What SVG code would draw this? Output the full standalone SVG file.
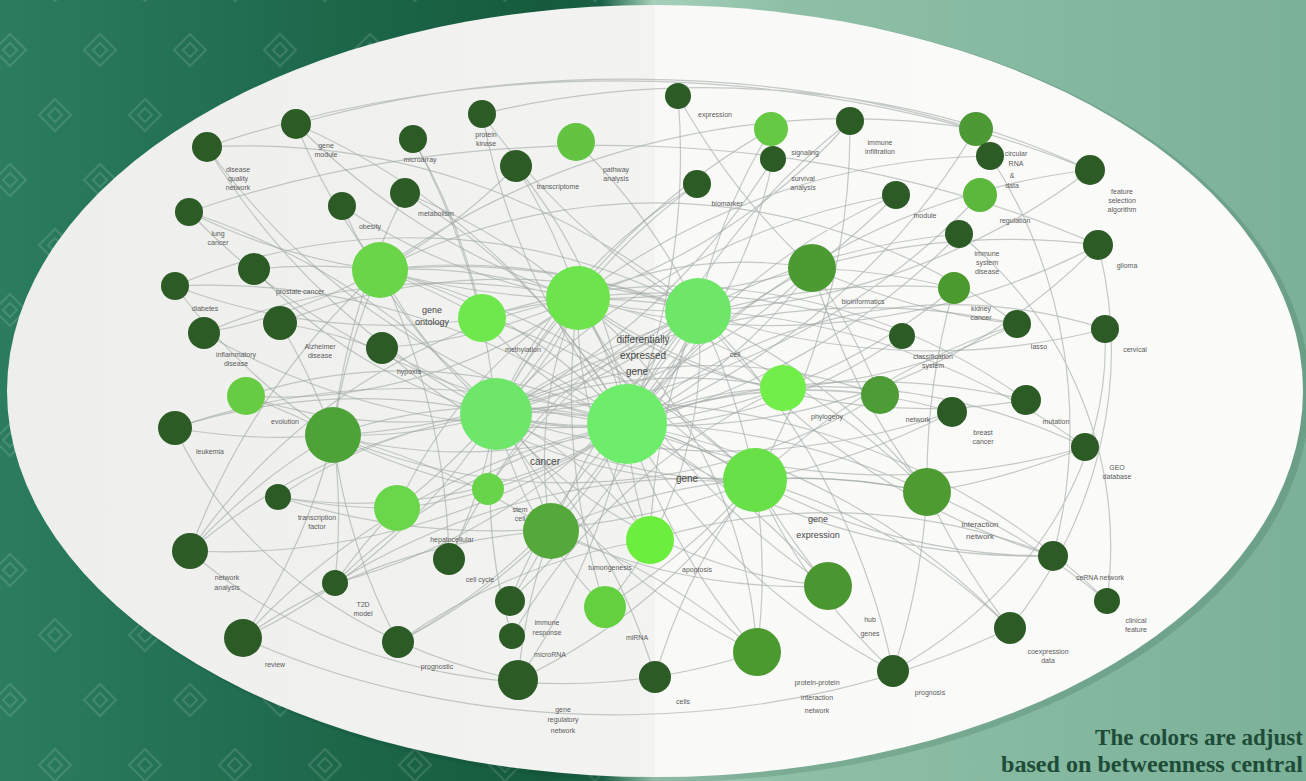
<svg xmlns="http://www.w3.org/2000/svg" width="1306" height="781" viewBox="0 0 1306 781">
<defs>
<linearGradient id="bg" x1="0" y1="0" x2="1" y2="0">
<stop offset="0" stop-color="#2b7d5e"/><stop offset="0.42" stop-color="#155a3d"/><stop offset="0.46" stop-color="#1a6245"/><stop offset="0.5" stop-color="#a6cfbb"/><stop offset="0.6" stop-color="#8ec0a7"/><stop offset="1" stop-color="#7cb199"/>
</linearGradient>
<linearGradient id="el" x1="0" y1="0" x2="1" y2="0">
<stop offset="0" stop-color="#eeefed"/><stop offset="0.5" stop-color="#f3f4f2"/><stop offset="0.5" stop-color="#f9f9f8"/><stop offset="1" stop-color="#fbfbfa"/>
</linearGradient>
<pattern id="dia" patternUnits="userSpaceOnUse" width="90" height="130">
<g fill="none" stroke="#ffffff" stroke-opacity="0.13" stroke-width="2">
<path d="M10 34L26 50L10 66L-6 50Z"/><rect x="5" y="45" width="10" height="10" transform="rotate(45 10 50)"/>
<path d="M100 34L116 50L100 66L84 50Z"/>
<path d="M55 99L71 115L55 131L39 115Z"/><rect x="50" y="110" width="10" height="10" transform="rotate(45 55 115)"/>
<path d="M55 -31L71 -15L55 1L39 -15Z"/>
</g>
</pattern>
<style>
.e{fill:none;stroke:#9ea8a3;stroke-opacity:0.6;stroke-width:1.2}
.d{fill:#2c5b26}
.m{fill:#4b9b32}
.lb{font-family:"Liberation Sans",Arial,sans-serif;font-size:7px;fill:#5a5a5a;text-anchor:middle}
.lc{font-family:"Liberation Sans",Arial,sans-serif;font-size:10px;fill:#474747;text-anchor:middle}
.cap{font-family:"Liberation Serif","Times New Roman",serif;font-size:23px;font-weight:bold;fill:#1e4c38}
</style>
</defs>
<rect width="1306" height="781" fill="url(#bg)"/>
<rect width="640" height="781" fill="url(#dia)"/>
<ellipse cx="660" cy="394" rx="650" ry="388" fill="#0b3a28" opacity="0.15"/>
<ellipse cx="655" cy="391" rx="648" ry="386" fill="url(#el)"/>

<g id="edges" class="e">
<path d="M627 424A700 700 0 0 1 207 147M627 424A700 700 0 0 0 296 124M627 424A700 700 0 0 1 482 114M627 424A700 700 0 0 0 678 96M627 424A700 700 0 0 1 850 121M627 424A700 700 0 0 0 976 129M627 424A700 700 0 0 1 1090 170M627 424A700 700 0 0 0 959 234M627 424A700 700 0 0 1 189 212M627 424A700 700 0 0 0 175 286M627 424A700 700 0 0 1 204 333M627 424A700 700 0 0 0 175 428M627 424A700 700 0 0 1 1026 400M627 424A700 700 0 0 0 1085 447M627 424A700 700 0 0 1 927 492M627 424A700 700 0 0 0 1053 556M627 424A700 700 0 0 1 1010 628M627 424A700 700 0 0 0 893 671M627 424A700 700 0 0 1 190 551M627 424A700 700 0 0 0 243 638M627 424A700 700 0 0 1 518 680M627 424A700 700 0 0 0 757 652M627 424A700 700 0 0 1 828 586M627 424A400 400 0 0 1 496 414M627 424A400 400 0 0 0 578 298M627 424A400 400 0 0 1 698 311M627 424A500 500 0 0 0 380 270M627 424A400 400 0 0 1 755 480M627 424A500 500 0 0 1 333 435M627 424A500 500 0 0 0 812 268M627 424A400 400 0 0 1 551 531M627 424A400 400 0 0 0 650 540M627 424A500 500 0 0 1 1105 329M627 424A600 600 0 0 0 1098 245M627 424A600 600 0 0 1 398 642M627 424A600 600 0 0 0 335 583"/>
<path d="M496 414A700 700 0 0 1 207 147M496 414A700 700 0 0 0 413 139M496 414A700 700 0 0 1 771 129M496 414A700 700 0 0 0 773 159M496 414A700 700 0 0 1 896 195M496 414A700 700 0 0 0 980 195M496 414A700 700 0 0 1 954 288M496 414A700 700 0 0 0 189 212M496 414A500 500 0 0 1 254 269M496 414A500 500 0 0 0 280 323M496 414A500 500 0 0 1 246 396M496 414A600 600 0 0 0 175 428M496 414A700 700 0 0 1 1017 324M496 414A700 700 0 0 0 952 412M496 414A700 700 0 0 1 1107 601M496 414A600 600 0 0 0 190 551M496 414A600 600 0 0 1 243 638M496 414A500 500 0 0 0 278 497M496 414A500 500 0 0 1 449 559M496 414A500 500 0 0 0 512 636M496 414A600 600 0 0 1 655 677M496 414A600 600 0 0 0 757 652M496 414A500 500 0 0 1 578 298M496 414A500 500 0 0 0 698 311M496 414A500 500 0 0 1 783 388M496 414A500 500 0 0 0 755 480M496 414A500 500 0 0 1 880 395"/>
<path d="M578 298A700 700 0 0 1 296 124M578 298A600 600 0 0 0 516 166M578 298A600 600 0 0 1 697 184M578 298A600 600 0 0 0 850 121M578 298A700 700 0 0 1 990 156M578 298A700 700 0 0 0 1098 245M578 298A600 600 0 0 1 342 206M578 298A600 600 0 0 0 405 193M578 298A600 600 0 0 1 382 348M578 298A600 600 0 0 0 204 333M578 298A700 700 0 0 1 927 492M578 298A700 700 0 0 0 828 586M578 298A700 700 0 0 1 397 508M578 298A700 700 0 0 0 605 607M578 298A700 700 0 0 1 902 336M578 298A400 400 0 0 0 698 311M578 298A400 400 0 0 1 812 268"/>
<path d="M698 311A700 700 0 0 0 207 147M698 311A700 700 0 0 1 482 114M698 311A600 600 0 0 0 576 142M698 311A600 600 0 0 1 771 129M698 311A700 700 0 0 0 1090 170M698 311A700 700 0 0 1 959 234M698 311A700 700 0 0 0 1105 329M698 311A700 700 0 0 1 1085 447M698 311A700 700 0 0 0 380 270M698 311A700 700 0 0 1 333 435M698 311A700 700 0 0 0 551 531M698 311A700 700 0 0 1 510 601M698 311A700 700 0 0 0 1053 556M698 311A700 700 0 0 1 893 671M698 311A700 700 0 0 0 650 540M698 311A700 700 0 0 1 755 480M698 311A600 600 0 0 0 175 286"/>
<path d="M380 270A600 600 0 0 1 296 124M380 270A600 600 0 0 0 516 166M380 270A600 600 0 0 1 189 212M380 270A600 600 0 0 0 254 269M380 270A600 600 0 0 1 204 333M380 270A800 800 0 0 1 976 129M380 270A800 800 0 0 0 812 268M380 270A800 800 0 0 1 755 480M380 270A600 600 0 0 0 333 435M380 270A600 600 0 0 1 482 318M380 270A700 700 0 0 0 190 551M380 270A700 700 0 0 1 449 559"/>
<path d="M755 480A700 700 0 0 0 850 121M755 480A700 700 0 0 1 1017 324M755 480A700 700 0 0 0 952 412M755 480A600 600 0 0 1 927 492M755 480A600 600 0 0 0 1053 556M755 480A600 600 0 0 1 1010 628M755 480A600 600 0 0 0 893 671M755 480A600 600 0 0 1 757 652M755 480A600 600 0 0 0 655 677M755 480A600 600 0 0 1 518 680M755 480A700 700 0 0 0 335 583M755 480A700 700 0 0 1 278 497M755 480A700 700 0 0 0 482 318M755 480A700 700 0 0 1 605 607M755 480A700 700 0 0 0 828 586"/>
<path d="M333 435A600 600 0 0 1 175 286M333 435A600 600 0 0 0 246 396M333 435A600 600 0 0 1 175 428M333 435A600 600 0 0 0 190 551M333 435A600 600 0 0 1 243 638M333 435A600 600 0 0 0 398 642M333 435A600 600 0 0 1 335 583M333 435A600 600 0 0 0 488 489M333 435A700 700 0 0 1 551 531M333 435A700 700 0 0 0 280 323M333 435A700 700 0 0 1 405 193"/>
<path d="M812 268A700 700 0 0 1 678 96M812 268A700 700 0 0 0 896 195M812 268A700 700 0 0 1 954 288M812 268A700 700 0 0 0 1017 324M812 268A700 700 0 0 1 880 395M812 268A700 700 0 0 0 927 492M812 268A700 700 0 0 1 1098 245"/>
<path d="M551 531A600 600 0 0 1 510 601M551 531A600 600 0 0 0 518 680M551 531A600 600 0 0 1 398 642M551 531A600 600 0 0 0 243 638M551 531A600 600 0 0 1 757 652M551 531A600 600 0 0 0 828 586M551 531A600 600 0 0 1 927 492"/>
<path d="M927 492A700 700 0 0 1 1107 601M927 492A700 700 0 0 0 1010 628M927 492A700 700 0 0 1 893 671M927 492A700 700 0 0 0 1085 447M927 492A700 700 0 0 1 954 288"/>
<path d="M207 147A900 600 0 0 1 1090 170M296 124A800 500 0 0 1 976 129M189 212A900 600 0 0 1 1098 245M482 114A700 500 0 0 1 1090 170M175 428A500 400 0 0 0 518 680M190 551A500 400 0 0 0 757 652M243 638A700 500 0 0 0 1010 628M1098 245A600 500 0 0 1 1010 628M1105 329A500 400 0 0 1 893 671M959 234A400 400 0 0 1 1107 601M990 156A500 500 0 0 1 1053 556"/>
<path d="M482 318A600 600 0 0 1 175 286M482 318A600 600 0 0 0 413 139M482 318A600 600 0 0 1 1026 400M783 388A600 600 0 0 0 1017 324M783 388A600 600 0 0 1 1085 447M783 388A600 600 0 0 0 512 636M650 540A600 600 0 0 1 1053 556M650 540A600 600 0 0 0 398 642M397 508A600 600 0 0 1 278 497M397 508A600 600 0 0 0 335 583"/>
<path d="M496 414A300 300 0 0 0 627 424M578 298A300 300 0 0 1 496 414M698 311A300 300 0 0 1 627 424M380 270A500 500 0 0 1 578 298M380 270A500 500 0 0 0 496 414M482 318A400 400 0 0 1 698 311M482 318A400 400 0 0 0 627 424M333 435A500 500 0 0 0 496 414M333 435A500 500 0 0 1 627 424M397 508A500 500 0 0 0 627 424M397 508A500 500 0 0 1 578 298M488 489A400 400 0 0 1 698 311M551 531A400 400 0 0 0 496 414M551 531A400 400 0 0 1 578 298M650 540A400 400 0 0 0 496 414M650 540A400 400 0 0 1 578 298M755 480A400 400 0 0 1 578 298M755 480A400 400 0 0 0 496 414M783 388A400 400 0 0 1 578 298M783 388A400 400 0 0 0 627 424M812 268A500 500 0 0 0 627 424M812 268A500 500 0 0 1 496 414M605 607A400 400 0 0 1 496 414M605 607A400 400 0 0 0 698 311M828 586A500 500 0 0 1 496 414M757 652A500 500 0 0 0 578 298M449 559A500 500 0 0 1 698 311M246 396A500 500 0 0 1 627 424M246 396A500 500 0 0 0 578 298M280 323A600 600 0 0 1 698 311M382 348A500 500 0 0 0 755 480M405 193A600 600 0 0 1 627 424M342 206A600 600 0 0 0 496 414M516 166A500 500 0 0 1 627 424M697 184A500 500 0 0 0 496 414M773 159A500 500 0 0 1 627 424M896 195A600 600 0 0 0 627 424M954 288A600 600 0 0 1 627 424M880 395A500 500 0 0 0 627 424M902 336A500 500 0 0 1 496 414M952 412A500 500 0 0 0 627 424M1026 400A600 600 0 0 1 578 298M1017 324A600 600 0 0 0 380 270M880 395A600 600 0 0 1 333 435M927 492A600 600 0 0 0 380 270M278 497A500 500 0 0 0 627 424M190 551A600 600 0 0 1 578 298M335 583A600 600 0 0 0 698 311M510 601A500 500 0 0 1 627 424"/>
</g>

<g id="n1"><circle class="d" cx="207" cy="147" r="15"/><text class="lb" x="238" y="172">disease</text><text class="lb" x="238" y="181">quality</text><text class="lb" x="238" y="190">network</text></g>
<g id="n2"><circle class="d" cx="296" cy="124" r="15"/><text class="lb" x="326" y="148">gene</text><text class="lb" x="326" y="157">module</text></g>
<g id="n3"><circle class="d" cx="413" cy="139" r="14"/><text class="lb" x="420" y="162">microarray</text></g>
<g id="n4"><circle class="d" cx="482" cy="114" r="14"/><text class="lb" x="486" y="137">protein</text><text class="lb" x="486" y="146">kinase</text></g>
<g id="n5"><circle fill="#62c441" cx="576" cy="142" r="19"/><text class="lb" x="616" y="172">pathway</text><text class="lb" x="616" y="181">analysis</text></g>
<g id="n6"><circle class="d" cx="516" cy="166" r="16"/><text class="lb" x="558" y="189">transcriptome</text></g>
<g id="n8"><circle class="d" cx="678" cy="96" r="13"/><text class="lb" x="715" y="117">expression</text></g>
<g id="n9"><circle fill="#66c944" cx="771" cy="129" r="17"/></g>
<g id="n10"><circle class="d" cx="773" cy="159" r="13"/><text class="lb" x="805" y="155">signaling</text><text class="lb" x="803" y="181">survival</text><text class="lb" x="803" y="190">analysis</text></g>
<g id="n11"><circle class="d" cx="850" cy="121" r="14"/><text class="lb" x="880" y="145">immune</text><text class="lb" x="880" y="154">infiltration</text></g>
<g id="n12"><circle class="d" cx="697" cy="184" r="14"/><text class="lb" x="727" y="206">biomarker</text></g>
<g id="n13"><circle fill="#4d9a34" cx="976" cy="129" r="17"/></g>
<g id="n14"><circle class="d" cx="990" cy="156" r="14"/><text class="lb" x="1016" y="156">circular</text><text class="lb" x="1016" y="166">RNA</text><text class="lb" x="1012" y="178">&amp;</text><text class="lb" x="1012" y="188">data</text></g>
<g id="n15"><circle fill="#5cb83c" cx="980" cy="195" r="17"/><text class="lb" x="1015" y="223">regulation</text></g>
<g id="n16"><circle class="d" cx="1090" cy="170" r="15"/><text class="lb" x="1122" y="194">feature</text><text class="lb" x="1122" y="203">selection</text><text class="lb" x="1122" y="212">algorithm</text></g>
<g id="n17"><circle class="d" cx="896" cy="195" r="14"/><text class="lb" x="925" y="218">module</text></g>
<g id="n18"><circle class="d" cx="959" cy="234" r="14"/><text class="lb" x="987" y="256">immune</text><text class="lb" x="987" y="265">system</text><text class="lb" x="987" y="274">disease</text></g>
<g id="n19"><circle class="d" cx="1098" cy="245" r="15"/><text class="lb" x="1127" y="268">glioma</text></g>
<g id="n20"><circle fill="#4a9a30" cx="954" cy="288" r="16"/><text class="lb" x="981" y="311">kidney</text><text class="lb" x="981" y="320">cancer</text></g>
<g id="n21"><circle class="d" cx="189" cy="212" r="14"/><text class="lb" x="218" y="236">lung</text><text class="lb" x="218" y="245">cancer</text></g>
<g id="n22"><circle class="d" cx="342" cy="206" r="14"/><text class="lb" x="370" y="229">obesity</text></g>
<g id="n23"><circle class="d" cx="405" cy="193" r="15"/><text class="lb" x="436" y="216">metabolism</text></g>
<g id="n24"><circle class="d" cx="254" cy="269" r="16"/><text class="lb" x="300" y="294">prostate cancer</text></g>
<g id="n25"><circle class="d" cx="175" cy="286" r="14"/><text class="lb" x="205" y="311">diabetes</text></g>
<g id="n26"><circle fill="#6ad548" cx="380" cy="270" r="28"/></g>
<g id="n27"><circle class="d" cx="204" cy="333" r="16"/><text class="lb" x="236" y="357">inflammatory</text><text class="lb" x="236" y="366">disease</text></g>
<g id="n28"><circle class="d" cx="280" cy="323" r="17"/><text class="lb" x="320" y="349">Alzheimer</text><text class="lb" x="320" y="358">disease</text></g>
<g id="n29"><circle class="d" cx="382" cy="348" r="16"/><text class="lb" x="409" y="374">hypoxia</text></g>
<g id="n30"><circle fill="#6ee84c" cx="482" cy="318" r="24"/><text class="lc" x="432" y="313" style="font-size:9px">gene</text><text class="lc" x="432" y="325" style="font-size:9px">ontology</text><text class="lb" x="523" y="352">methylation</text></g>
<g id="n31"><circle fill="#6de44c" cx="578" cy="298" r="32"/></g>
<g id="n32"><circle fill="#6ee668" cx="698" cy="311" r="33"/><text class="lb" x="735" y="357">cell</text></g>
<g id="n33"><circle class="m" cx="812" cy="268" r="24"/><text class="lb" x="863" y="304">bioinformatics</text></g>
<g id="n34"><circle class="d" cx="902" cy="336" r="13"/><text class="lb" x="933" y="359">classification</text><text class="lb" x="933" y="368">system</text></g>
<g id="n35"><circle class="d" cx="1017" cy="324" r="14"/><text class="lb" x="1039" y="349">lasso</text></g>
<g id="n36"><circle class="d" cx="1105" cy="329" r="14"/><text class="lb" x="1135" y="352">cervical</text></g>
<g id="n37"><circle fill="#66cc44" cx="246" cy="396" r="19"/></g>
<g id="n38"><circle class="d" cx="175" cy="428" r="17"/><text class="lb" x="210" y="454">leukemia</text></g>
<g id="n39"><circle fill="#4ea338" cx="333" cy="435" r="28"/><text class="lb" x="285" y="424">evolution</text></g>
<g id="n40"><circle fill="#6ee66a" cx="496" cy="414" r="36"/></g>
<g id="n41"><circle fill="#6ded6a" cx="627" cy="424" r="40"/></g>
<g id="center-label"><text class="lc" x="643" y="343">differentially</text><text class="lc" x="643" y="359">expressed</text><text class="lc" x="637" y="375">gene</text></g>
<g id="n42"><circle fill="#72ee48" cx="783" cy="388" r="23"/><text class="lb" x="827" y="419">phylogeny</text></g>
<g id="n43"><circle fill="#4d9c35" cx="880" cy="395" r="19"/><text class="lb" x="918" y="422">network</text></g>
<g id="n44"><circle class="d" cx="952" cy="412" r="15"/><text class="lb" x="983" y="435">breast</text><text class="lb" x="983" y="444">cancer</text></g>
<g id="n45"><circle class="d" cx="1026" cy="400" r="15"/><text class="lb" x="1056" y="424">mutation</text></g>
<g id="n46"><circle class="d" cx="1085" cy="447" r="14"/><text class="lb" x="1117" y="470">GEO</text><text class="lb" x="1117" y="479">database</text></g>
<g id="n47"><circle fill="#4e9b32" cx="927" cy="492" r="24"/><text class="lb" x="980" y="527" style="font-size:8px">interaction</text><text class="lb" x="980" y="539" style="font-size:8px">network</text></g>
<g id="n48"><circle class="d" cx="1053" cy="556" r="15"/><text class="lb" x="1100" y="580">ceRNA network</text></g>
<g id="n49"><circle class="d" cx="1107" cy="601" r="13"/><text class="lb" x="1136" y="623">clinical</text><text class="lb" x="1136" y="632">feature</text></g>
<g id="n50"><circle class="d" cx="1010" cy="628" r="16"/><text class="lb" x="1048" y="654">coexpression</text><text class="lb" x="1048" y="663">data</text></g>
<g id="n51"><circle class="d" cx="893" cy="671" r="16"/><text class="lb" x="930" y="695">prognosis</text></g>
<g id="n52"><circle fill="#68e048" cx="755" cy="480" r="32"/><text class="lc" x="687" y="482">gene</text><text class="lc" x="545" y="465">cancer</text></g>
<g id="n53"><circle class="d" cx="278" cy="497" r="13"/><text class="lb" x="317" y="520">transcription</text><text class="lb" x="317" y="529">factor</text></g>
<g id="n54"><circle fill="#6ad64a" cx="397" cy="508" r="23"/></g>
<g id="n55"><circle fill="#68d44a" cx="488" cy="489" r="16"/><text class="lb" x="520" y="512">stem</text><text class="lb" x="520" y="521">cell</text></g>
<g id="n56"><circle fill="#55a83a" cx="551" cy="531" r="28"/></g>
<g id="n57"><circle class="d" cx="449" cy="559" r="16"/><text class="lb" x="452" y="542">hepatocellular</text><text class="lb" x="480" y="582">cell cycle</text></g>
<g id="n58"><circle fill="#6cee3e" cx="650" cy="540" r="24"/><text class="lb" x="610" y="570">tumorigenesis</text><text class="lb" x="697" y="572">apoptosis</text></g>
<g id="n59"><circle fill="#4a9630" cx="828" cy="586" r="24"/><text class="lc" x="818" y="522" style="font-size:9px">gene</text><text class="lc" x="818" y="538" style="font-size:9px">expression</text><text class="lb" x="870" y="622">hub</text><text class="lb" x="870" y="636">genes</text></g>
<g id="n60"><circle class="d" cx="190" cy="551" r="18"/><text class="lb" x="227" y="580">network</text><text class="lb" x="227" y="590">analysis</text></g>
<g id="n61"><circle class="d" cx="335" cy="583" r="13"/><text class="lb" x="363" y="607">T2D</text><text class="lb" x="363" y="616">model</text></g>
<g id="n62"><circle class="d" cx="510" cy="601" r="15"/></g>
<g id="n63"><circle class="d" cx="512" cy="636" r="13"/><text class="lb" x="547" y="625">immune</text><text class="lb" x="547" y="635">response</text><text class="lb" x="550" y="657">microRNA</text></g>
<g id="n64"><circle fill="#64d040" cx="605" cy="607" r="21"/><text class="lb" x="637" y="640">miRNA</text></g>
<g id="n65"><circle class="d" cx="243" cy="638" r="19"/><text class="lb" x="275" y="667">review</text></g>
<g id="n66"><circle class="d" cx="398" cy="642" r="16"/><text class="lb" x="437" y="669">prognostic</text></g>
<g id="n67"><circle class="d" cx="518" cy="680" r="20"/><text class="lb" x="563" y="712">gene</text><text class="lb" x="563" y="722">regulatory</text><text class="lb" x="563" y="733">network</text></g>
<g id="n68"><circle class="d" cx="655" cy="677" r="16"/><text class="lb" x="683" y="704">cells</text></g>
<g id="n69"><circle fill="#4a9a30" cx="757" cy="652" r="24"/><text class="lb" x="817" y="685">protein-protein</text><text class="lb" x="817" y="700">interaction</text><text class="lb" x="817" y="713">network</text></g>

<g id="caption"><text class="cap" x="1095" y="745" textLength="208" lengthAdjust="spacingAndGlyphs">The colors are adjust</text><text class="cap" x="1001" y="772" textLength="302" lengthAdjust="spacingAndGlyphs">based on betweenness central</text></g>
</svg>
